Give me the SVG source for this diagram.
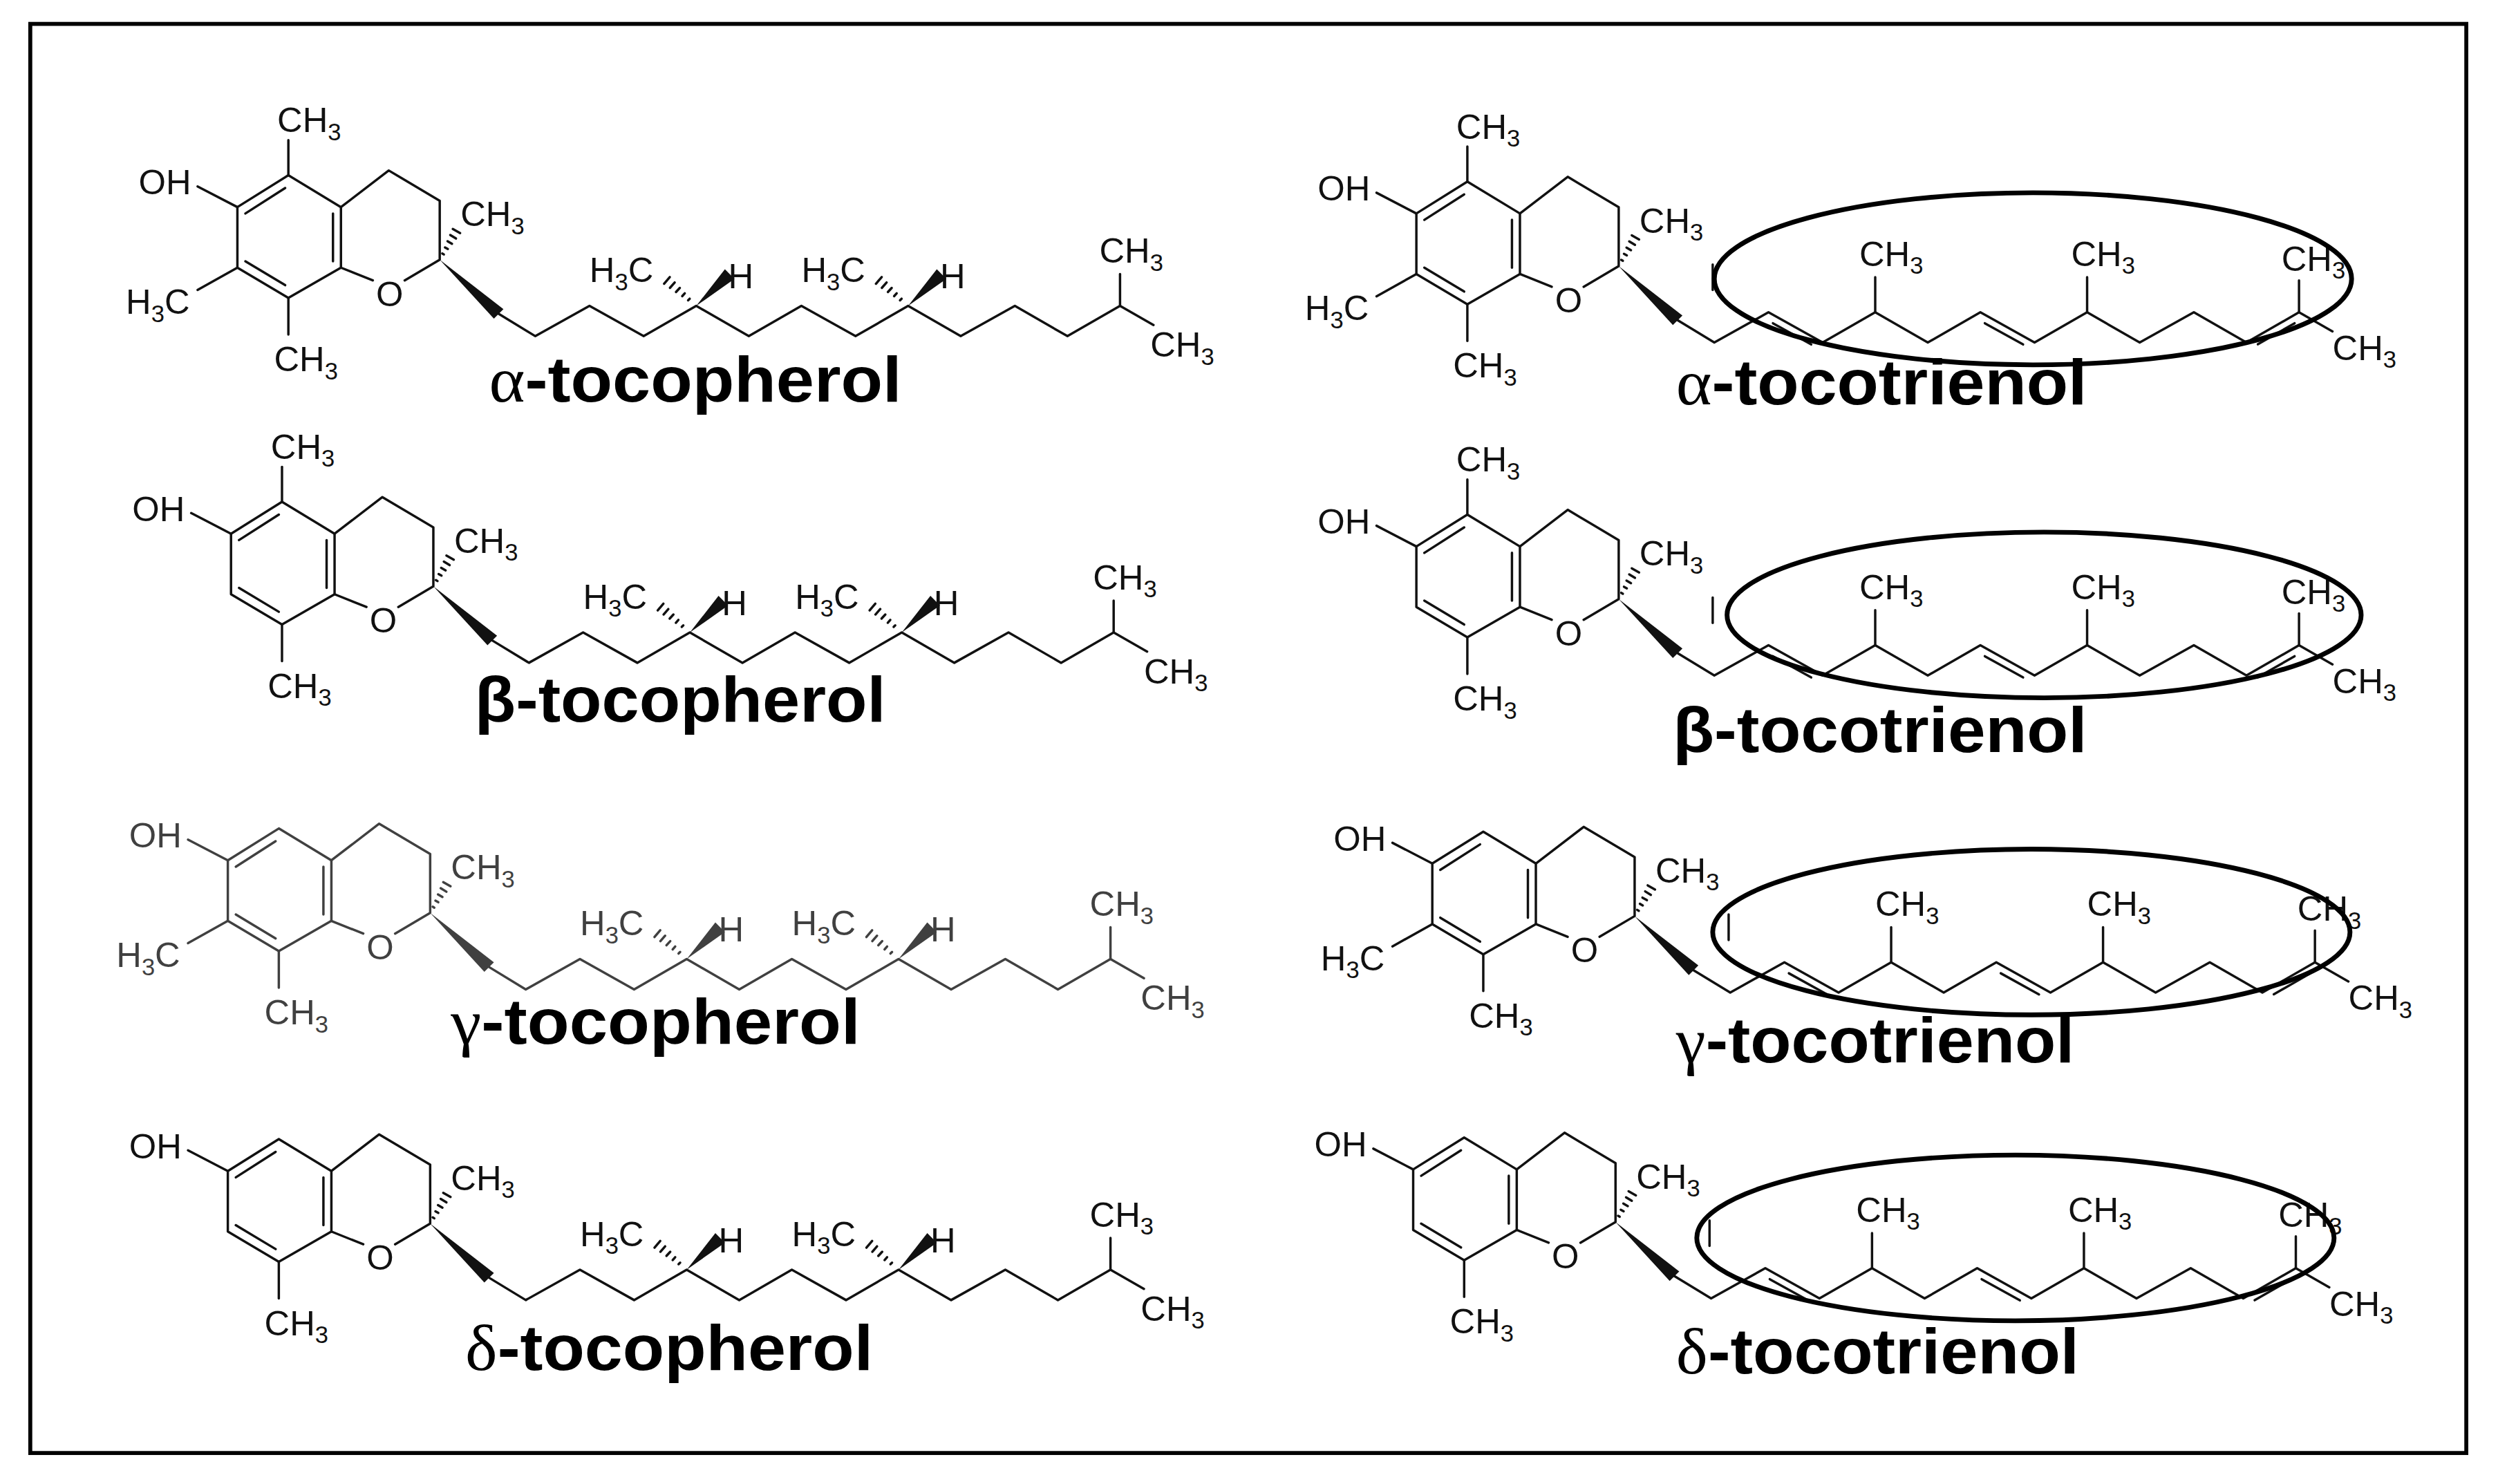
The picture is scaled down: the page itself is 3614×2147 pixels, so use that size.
<svg xmlns="http://www.w3.org/2000/svg" xmlns:xlink="http://www.w3.org/1999/xlink" width="3614" height="2147" viewBox="0 0 3614 2147">
<style>
.b{fill:none;stroke:#111;stroke-width:1.5;stroke-linejoin:round;stroke-linecap:round}
.t{font-family:"Liberation Sans",Arial,sans-serif;font-size:22px;fill:#111}
.s{font-size:15px}
.ti{font-family:"Liberation Sans",Arial,sans-serif;font-size:40px;font-weight:bold;fill:#000}
.g{font-family:"Liberation Serif","Times New Roman",serif;font-weight:normal}
.el{fill:none;stroke:#000;stroke-width:3}
</style>
<defs>
<g id="core">
<polygon class="b" points="181,110 214,130 214,168 181,187 149,168 149,130"/>
<line class="b" x1="154" y1="134" x2="179" y2="118"/>
<line class="b" x1="209" y1="134" x2="209" y2="164"/>
<line class="b" x1="154" y1="164" x2="179" y2="179"/>
<polyline class="b" points="214,130 244,107 276,126 276,163 254,176"/>
<line class="b" x1="214" y1="168" x2="234" y2="176"/>
<text class="t" x="236" y="192">O</text>
<line class="b" x1="149" y1="130" x2="124" y2="117"/>
<text class="t" x="87" y="122">OH</text>
<g class="b" stroke-width="1.1">
<line x1="277.6" y1="159.1" x2="278.6" y2="159.7"/><line x1="279.3" y1="155.3" x2="281.1" y2="156.3"/>
<line x1="280.9" y1="151.4" x2="283.7" y2="153"/><line x1="282.6" y1="147.5" x2="286.2" y2="149.7"/>
<line x1="284.2" y1="143.7" x2="288.8" y2="146.3"/>
</g>
<text class="t" x="289" y="142">CH<tspan class="s" dy="5">3</tspan></text>
<polygon points="276,163 316,194 310,200" fill="#111"/>
</g>
<g id="me5"><line class="b" x1="181" y1="110" x2="181" y2="88"/><text class="t" x="174" y="83">CH<tspan class="s" dy="5">3</tspan></text></g>
<g id="me7"><line class="b" x1="149" y1="168" x2="124" y2="182"/><text class="t" x="79" y="197">H<tspan class="s" dy="5">3</tspan><tspan dy="-5">C</tspan></text></g>
<g id="me8"><line class="b" x1="181" y1="187" x2="181" y2="210"/><text class="t" x="172" y="233">CH<tspan class="s" dy="5">3</tspan></text></g>
<g id="stereo">
<g class="b" stroke-width="1.1">
<line x1="431.9" y1="188.5" x2="432.9" y2="187.5"/><line x1="428.2" y1="185.9" x2="429.8" y2="184.1"/>
<line x1="424.3" y1="183.3" x2="426.7" y2="180.7"/><line x1="420.5" y1="180.7" x2="423.5" y2="177.3"/>
<line x1="416.8" y1="178.1" x2="420.4" y2="173.9"/>
</g>
<text class="t" x="370" y="177">H<tspan class="s" dy="5">3</tspan><tspan dy="-5">C</tspan></text>
<polygon points="437,192 455,169 461,175" fill="#111"/>
<text class="t" x="457" y="181">H</text>
</g>
<g id="pher">
<polyline class="b" points="313,197 336,211 370,192 404,211 437,192 470,211 503,192 537,211 570,192 603,211 637,192 670,211 703,192 724,204"/>
<line class="b" x1="703" y1="192" x2="703" y2="172"/>
<use xlink:href="#stereo"/>
<use xlink:href="#stereo" x="133"/>
<text class="t" x="690" y="165">CH<tspan class="s" dy="5">3</tspan></text>
<text class="t" x="722" y="224">CH<tspan class="s" dy="5">3</tspan></text>
</g>
<g id="trien">
<polyline class="b" points="313,197 336,211 370,192 404,211 437,192 470,211 503,192 537,211 570,192 603,211 637,192 670,211 703,192 724,204"/>
<line class="b" x1="372.8" y1="198.9" x2="396.8" y2="212.2"/>
<line class="b" x1="505.8" y1="198.9" x2="529.8" y2="212.2"/>
<line class="b" x1="677.2" y1="212.1" x2="700.2" y2="198.9"/>
<line class="b" x1="437" y1="192" x2="437" y2="170"/>
<line class="b" x1="570" y1="192" x2="570" y2="170"/>
<line class="b" x1="703" y1="192" x2="703" y2="172"/>
<line class="b" x1="335" y1="162" x2="335" y2="178" stroke-width="2"/>
<text class="t" x="427" y="163">CH<tspan class="s" dy="5">3</tspan></text>
<text class="t" x="560" y="163">CH<tspan class="s" dy="5">3</tspan></text>
<text class="t" x="692" y="166">CH<tspan class="s" dy="5">3</tspan></text>
<text class="t" x="724" y="222">CH<tspan class="s" dy="5">3</tspan></text>
</g>
</defs>
<rect width="3614" height="2147" fill="#fff"/>
<g transform="scale(2.305)">
<rect x="19" y="15" width="1529" height="897" fill="none" stroke="#000" stroke-width="2.5"/>
<g id="alpha-tocopherol"><use xlink:href="#core"/><use xlink:href="#me5"/><use xlink:href="#me7"/><use xlink:href="#me8"/><use xlink:href="#pher"/>
<text class="ti" x="307" y="252" textLength="259" lengthAdjust="spacingAndGlyphs"><tspan class="g">α</tspan>-tocopherol</text></g>
<g id="beta-tocopherol"><g transform="translate(-4,205)"><use xlink:href="#core"/><use xlink:href="#me5"/><use xlink:href="#me8"/><use xlink:href="#pher"/></g>
<text class="ti" x="298" y="453" textLength="258" lengthAdjust="spacingAndGlyphs">β-tocopherol</text></g>
<g id="gamma-tocopherol"><g transform="translate(-6,410)" opacity="0.8"><use xlink:href="#core"/><use xlink:href="#me7"/><use xlink:href="#me8"/><use xlink:href="#pher"/></g>
<text class="ti" x="283" y="655" textLength="257" lengthAdjust="spacingAndGlyphs"><tspan class="g">γ</tspan>-tocopherol</text></g>
<g id="delta-tocopherol"><g transform="translate(-6,605)"><use xlink:href="#core"/><use xlink:href="#me8"/><use xlink:href="#pher"/></g>
<text class="ti" x="292" y="860" textLength="256" lengthAdjust="spacingAndGlyphs"><tspan class="g">δ</tspan>-tocopherol</text></g>
<g id="alpha-tocotrienol"><g transform="translate(740,4)"><use xlink:href="#core"/><use xlink:href="#me5"/><use xlink:href="#me7"/><use xlink:href="#me8"/><use xlink:href="#trien"/></g>
<text class="ti" x="1052" y="254" textLength="258" lengthAdjust="spacingAndGlyphs"><tspan class="g">α</tspan>-tocotrienol</text></g>
<g id="beta-tocotrienol"><g transform="translate(740,213)"><use xlink:href="#core"/><use xlink:href="#me5"/><use xlink:href="#me8"/><use xlink:href="#trien"/></g>
<text class="ti" x="1050" y="472" textLength="260" lengthAdjust="spacingAndGlyphs">β-tocotrienol</text></g>
<g id="gamma-tocotrienol"><g transform="translate(750,412)"><use xlink:href="#core"/><use xlink:href="#me7"/><use xlink:href="#me8"/><use xlink:href="#trien"/></g>
<text class="ti" x="1052" y="667" textLength="250" lengthAdjust="spacingAndGlyphs"><tspan class="g">γ</tspan>-tocotrienol</text></g>
<g id="delta-tocotrienol"><g transform="translate(738,604)"><use xlink:href="#core"/><use xlink:href="#me8"/><use xlink:href="#trien"/></g>
<text class="ti" x="1052" y="862" textLength="253" lengthAdjust="spacingAndGlyphs"><tspan class="g">δ</tspan>-tocotrienol</text></g>
<g id="highlights">
<ellipse class="el" cx="1276" cy="175" rx="200" ry="54"/>
<ellipse class="el" cx="1283" cy="386" rx="199" ry="52"/>
<ellipse class="el" cx="1275" cy="585" rx="200" ry="52"/>
<ellipse class="el" cx="1265" cy="777" rx="200" ry="52"/>
</g>
</g>
</svg>
